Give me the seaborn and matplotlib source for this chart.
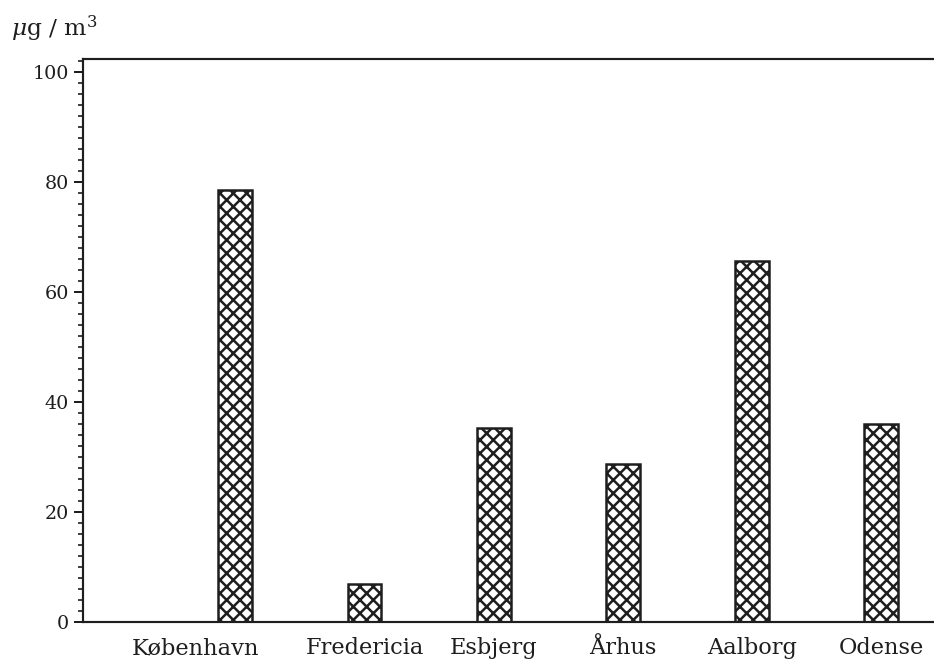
import matplotlib
matplotlib.use("Agg")
import matplotlib.pyplot as plt
from matplotlib.ticker import MultipleLocator
from matplotlib.transforms import ScaledTranslation
import seaborn as sns
import pandas as pd

# Annual mean concentration per city
cities = ["København", "Fredericia", "Esbjerg", "Århus", "Aalborg", "Odense"]
values = [78.5, 7.0, 35.3, 28.7, 65.6, 36.0]
yticks = [0, 20, 40, 60, 80, 100]

sns.set_theme(style="white")
plt.rcParams["font.family"] = ["DejaVu Serif", "DejaVu Sans"]
plt.rcParams["mathtext.fontset"] = "dejavuserif"
plt.rcParams["hatch.linewidth"] = 1.5
plt.rcParams["hatch.color"] = "#1a1a1a"

ink = "#1e1e1e"
DPI = 120
fig = plt.figure(figsize=(934 / DPI, 667 / DPI), dpi=DPI)
ax = fig.add_axes([83 / 934, 45 / 667, 1 - 83 / 934, (622 - 59) / 667])

df = pd.DataFrame({"city": cities, "value": values})
sns.barplot(data=df, x="city", y="value", order=cities, color="white",
            width=0.263, edgecolor=ink, linewidth=1.5, ax=ax, errorbar=None)
for bar in ax.patches:
    bar.set_hatch("xxx")
    bar.set_facecolor("white")

ax.set_xlim(-1.18, 5.41)
ax.set_ylim(0, 102.4)
ax.set_yticks(yticks)
ax.yaxis.set_minor_locator(MultipleLocator(2))
ax.set_xlabel("")
ax.set_ylabel("")

ax.spines["right"].set_visible(False)
for side in ("left", "bottom", "top"):
    ax.spines[side].set_color(ink)
    ax.spines[side].set_linewidth(1.3)

ax.tick_params(axis="y", which="major", left=True, length=5.5, width=1.2,
               color=ink, labelsize=11.5, labelcolor=ink, pad=3)
ax.tick_params(axis="y", which="minor", left=True, length=3, width=1.0, color=ink)
ax.tick_params(axis="x", bottom=False, labelsize=13.5, labelcolor=ink, pad=3)

# the first city name sits a little left of its bar
first = ax.get_xticklabels()[0]
first.set_transform(first.get_transform() + ScaledTranslation(-40 / DPI, 0, fig.dpi_scale_trans))

fig.text(11 / 934, 1 - 36 / 667, r"$\mu$g / m$^3$", fontsize=14, color=ink,
         ha="left", va="baseline")

fig.savefig("out.png", dpi=DPI, facecolor="white")
